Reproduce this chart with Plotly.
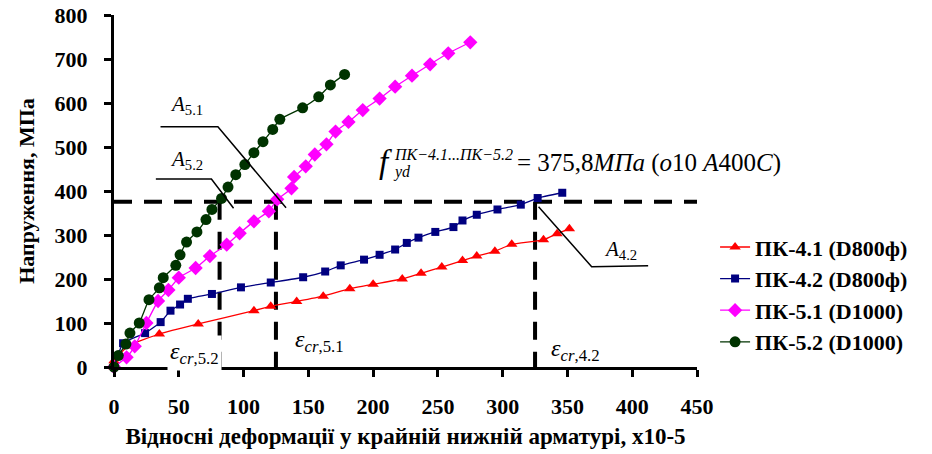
import plotly.graph_objects as go

# ---- data ----
pk41_x = [0, 0, 11, 35, 65, 108, 121, 141, 161.5, 182, 200, 222.5, 237, 253, 269, 280, 294, 307, 331.5, 342, 351.5]
pk41_y = [0, 14, 48, 75, 98, 128, 138, 149, 161, 178, 188, 200, 213, 227, 242, 252, 263, 279, 289, 303, 314]

pk42_x = [0, 7, 24, 36, 43.6, 51, 57, 75.6, 98, 121, 146, 163, 175, 193, 205, 217, 226, 235, 248, 262, 269, 280, 296, 314, 327, 346]
pk42_y = [0, 54, 77, 102, 128, 142, 155, 166, 181, 192, 204, 217, 231, 244, 255, 267, 282, 294, 307, 318, 333, 346, 358, 369, 384, 396]

pk51_x = [0, 9.7, 16, 25, 34, 42, 50, 63, 74, 87, 97, 108, 119.5, 126, 137, 139, 148, 155, 164, 171, 181, 192, 205, 217, 230, 244, 258, 275]
pk51_y = [0, 22, 47, 100, 150, 175, 203, 225, 252, 278, 304, 331, 354, 381, 406, 432, 456, 483, 506, 535, 557, 584, 610, 637, 662, 688, 713, 738]

pk52_x = [0, 3.3, 9.2, 12.3, 19.5, 27, 35, 38, 47.7, 51, 56, 64, 71, 75.6, 83, 88, 94, 101, 108, 115, 122.5, 128, 145.6, 158, 167, 178]
pk52_y = [0, 26, 52, 77, 100, 153, 180, 203, 231, 255, 284, 307, 335, 358, 383, 409, 437, 460, 487, 512, 540, 563, 589, 614, 641, 665]

series_names = ["ПК-4.1 (D800ф)", "ПК-4.2 (D800ф)", "ПК-5.1 (D1000)", "ПК-5.2 (D1000)"]
fyd = 375.8
eps_cr = [81.5, 125, 325]          # eps_cr,5.2 ; eps_cr,5.1 ; eps_cr,4.2
x_ticks = [0, 50, 100, 150, 200, 250, 300, 350, 400, 450]
y_ticks = [0, 100, 200, 300, 400, 500, 600, 700, 800]

SERIF = "'Liberation Serif', 'Times New Roman', 'DejaVu Serif', serif"

fig = go.Figure()

# reference dashed lines (drawn first so data sit on top)
fig.add_trace(go.Scatter(x=[0, 450], y=[fyd, fyd], mode="lines", showlegend=False,
                         line=dict(color="black", width=4, dash="18px,12px"), hoverinfo="skip"))
for e in eps_cr:
    fig.add_trace(go.Scatter(x=[e, e], y=[fyd, 0], mode="lines", showlegend=False,
                             line=dict(color="black", width=4, dash="18px,12px"), hoverinfo="skip"))

styles = [
    (pk41_x, pk41_y, "#FF0000", "#FF0000", "triangle-up", 10),
    (pk42_x, pk42_y, "#000080", "#000080", "square", 8),
    (pk51_x, pk51_y, "#FF00FF", "#FF00FF", "diamond", 11),
    (pk52_x, pk52_y, "#003300", "#003300", "circle", 11),
]
for (xs, ys, lc, mc, sym, sz), name in zip(styles, series_names):
    fig.add_trace(go.Scatter(x=xs, y=ys, mode="lines+markers", name=name, cliponaxis=False,
                             line=dict(color=lc, width=1.3, shape="spline", smoothing=0.4),
                             marker=dict(symbol=sym, size=sz, color=mc, line=dict(width=0))))

# leader lines for A labels
leaders = [
    [(35.9, 546), (80.2, 546), (132.8, 362)],
    [(32.3, 427), (75.2, 427), (92.3, 360.7)],
    [(327.7, 364), (368.7, 228), (412.3, 230)],
]
for pts in leaders:
    path = "M " + " L ".join(f"{px},{py}" for px, py in pts)
    fig.add_shape(type="path", path=path, xref="x", yref="y",
                  line=dict(color="black", width=1.5))

anns = [
    (56.3, 596.6, "<i>A</i><sub>5.1</sub>", None, 21, "middle", 0),
    (56.3, 471.6, "<i>A</i><sub>5.2</sub>", None, 21, "middle", 0),
    (390.6, 267, "<i>A</i><sub>4.2</sub>", None, 21, "middle", 0),
    (62.5, 0, "<i>ε</i><sub><i>cr</i>,5.2</sub>", "white", 24, "bottom", -4),
    (159, 60, "<i>ε</i><sub><i>cr</i>,5.1</sub>", None, 24, "middle", 0),
    (356, 38, "<i>ε</i><sub><i>cr</i>,4.2</sub>", None, 24, "middle", 0),
]
for ax_, ay_, txt, bg, fs, ya, ys_ in anns:
    fig.add_annotation(x=ax_, y=ay_, xref="x", yref="y", text=txt, showarrow=False,
                       font=dict(family=SERIF, size=fs, color="black"),
                       bgcolor=bg if bg else "rgba(0,0,0,0)", borderpad=2, yshift=ys_,
                       xanchor="center", yanchor=ya)

# f_yd label
fig.add_annotation(x=(386 - 114) / 1.2956, y=(367.5 - 162) / 0.44, xref="x", yref="y",
                   text="<i>f</i>", showarrow=False, font=dict(family=SERIF, size=33, color="black"),
                   xanchor="center", yanchor="middle")
fig.add_annotation(x=(392 - 114) / 1.2956, y=(367.5 - 155) / 0.44, xref="x", yref="y",
                   text="<i>ПК−4.1...ПК−5.2</i>", showarrow=False,
                   font=dict(family=SERIF, size=16, color="black"), xanchor="left", yanchor="middle")
fig.add_annotation(x=(391 - 114) / 1.2956, y=(367.5 - 172) / 0.44, xref="x", yref="y",
                   text="<i>yd</i>", showarrow=False,
                   font=dict(family=SERIF, size=16, color="black"), xanchor="left", yanchor="middle")
fig.add_annotation(x=(515 - 114) / 1.2956, y=(367.5 - 163) / 0.44, xref="x", yref="y",
                   text="= 375,8<i>МПа</i> (<i>о</i>10 <i>А</i>400<i>С</i>)", showarrow=False,
                   font=dict(family=SERIF, size=25, color="black"), xanchor="left", yanchor="middle")

fig.update_layout(
    width=932, height=454,
    margin=dict(l=114, r=235, t=15, b=87, autoexpand=False),
    paper_bgcolor="white", plot_bgcolor="white",
    font=dict(family=SERIF, color="black"),
    showlegend=True,
    legend=dict(x=1.031, y=0.40, xanchor="left", yanchor="top",
                font=dict(family=SERIF, size=22, color="black", weight="bold"),
                bgcolor="rgba(0,0,0,0)", tracegroupgap=0),
    xaxis=dict(range=[0, 450], tickvals=x_ticks, ticktext=[str(v) for v in x_ticks],
               showgrid=False, zeroline=False, showline=True, linecolor="black", linewidth=3,
               ticks="outside", ticklen=7, tickwidth=3, tickcolor="black", automargin=False,
               tickfont=dict(family=SERIF, size=22, color="black", weight="bold"),
               ticklabelstandoff=11,
               title=dict(text="Відносні деформації у крайній нижній арматурі, х10-5",
                          font=dict(family=SERIF, size=23, color="black", weight="bold"),
                          standoff=10)),
    yaxis=dict(range=[0, 800], tickvals=y_ticks, ticktext=[str(v) for v in y_ticks],
               showgrid=False, zeroline=False, showline=True, linecolor="black", linewidth=3,
               ticks="outside", ticklen=7, tickwidth=3, tickcolor="black", automargin=False,
               tickfont=dict(family=SERIF, size=22, color="black", weight="bold"),
               ticklabelstandoff=12,
               title=dict(text="Напруження, МПа",
                          font=dict(family=SERIF, size=22, color="black", weight="bold"),
                          standoff=14)),
)

fig.write_html("out.html")
